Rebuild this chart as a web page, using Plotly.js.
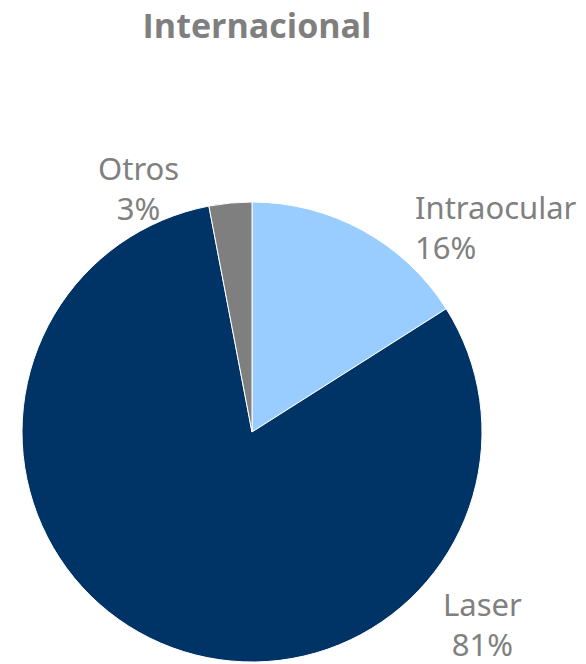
<!DOCTYPE html>
<html><head><meta charset="utf-8">
<script src="https://cdn.plot.ly/plotly-3.0.1.min.js"></script>
<style>html,body{margin:0;padding:0;background:#fff}#c{width:586px;height:664px}</style>
</head><body><div id="c"></div>
<script>
const categories = ["Intraocular", "Laser", "Otros"];
const values = [16, 81, 3];
const sliceColors = ["#99CCFF", "#003366", "#7F7F7F"];
const chartTitle = "Internacional";

const labelPos = {
  "Intraocular": {x: 413, y: 227, align: "left", xanchor: "left"},
  "Laser": {x: 482, y: 624, align: "center", xanchor: "center"},
  "Otros": {x: 138, y: 188, align: "center", xanchor: "center"}
};
const total = values.reduce((a, b) => a + b, 0);
const W = 586, H = 664;
const annotations = categories.map((c, i) => {
  const p = labelPos[c];
  return {
    text: c + "<br>" + Math.round(values[i] / total * 100) + "%",
    x: p.x / W, y: 1 - p.y / H, xref: "paper", yref: "paper",
    xanchor: p.xanchor, yanchor: "middle", align: p.align, showarrow: false,
    font: {family: "Noto Sans, Open Sans, sans-serif", size: 31, color: "#808080"}
  };
});

const cx = 252, cy = 432, r = 230;
Plotly.newPlot("c", [{
  type: "pie",
  labels: categories,
  values: values,
  marker: {colors: sliceColors, line: {color: "#ffffff", width: 1}},
  sort: false,
  direction: "clockwise",
  rotation: 0,
  textinfo: "none",
  hoverinfo: "label+percent",
  domain: {x: [(cx - r) / W, (cx + r) / W], y: [1 - (cy + r) / H, 1 - (cy - r) / H]}
}], {
  width: W, height: H,
  margin: {l: 0, r: 0, t: 0, b: 0},
  showlegend: false,
  paper_bgcolor: "#ffffff",
  title: {text: "<b>" + chartTitle + "</b>", x: 257 / W, xanchor: "center", y: 1 - 26 / H, yanchor: "middle",
    font: {family: "Open Sans, Noto Sans, sans-serif", size: 34, color: "#7F7F7F"}},
  annotations: annotations
}, {staticPlot: true});
</script></body></html>
